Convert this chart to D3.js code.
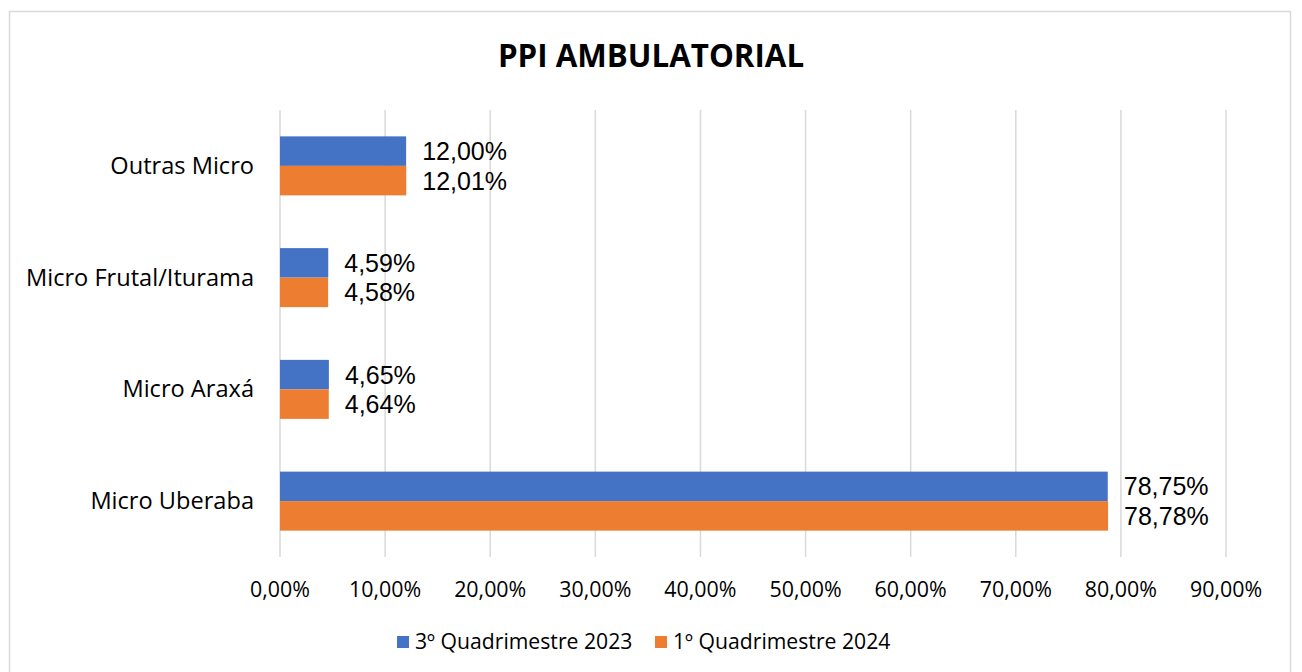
<!DOCTYPE html>
<head>
    <meta charset="utf-8">
    <title>PPI Ambulatorial</title>
    <style>
        body { margin: 0; background: #fff; }
        text { font-family: "Open Sans", sans-serif; fill: #000; }
        .value { font-family: "Liberation Sans", Arial, sans-serif; }
    </style>
</head>
<body>

<svg width="1302" height="672"></svg>

<script src="https://d3js.org/d3.v7.min.js"></script>

<script>

    // data
    var categories = ["Outras Micro", "Micro Frutal/Iturama", "Micro Araxá", "Micro Uberaba"];
    var seriesNames = ["3º Quadrimestre 2023", "1º Quadrimestre 2024"];
    var values2023 = [12.00, 4.59, 4.65, 78.75];
    var values2024 = [12.01, 4.58, 4.64, 78.78];
    var tickValues = [0, 10, 20, 30, 40, 50, 60, 70, 80, 90];
    var colors = ["#4472c4", "#ed7d31"];

    var svg = d3.select("svg");

    var fmt = function(v) { return v.toFixed(2).replace(".", ",") + "%"; };

    // chart frame
    svg.append("rect")
        .attr("x", 9.5).attr("y", 11.5)
        .attr("width", 1281).attr("height", 700)
        .attr("fill", "#fff")
        .attr("stroke", "#d9d9d9")
        .attr("stroke-width", 1.5);

    var x = d3.scaleLinear().domain([0, 90]).range([280, 1226]);
    var y = d3.scaleBand().domain(categories).range([110, 557]).paddingInner(0.472).paddingOuter(0.236);
    var ySub = d3.scaleBand().domain([0, 1]).range([0, y.bandwidth()]);

    // gridlines
    svg.append("g")
        .selectAll("line")
        .data(tickValues)
        .enter().append("line")
            .attr("x1", function(d) { return x(d); })
            .attr("x2", function(d) { return x(d); })
            .attr("y1", 110)
            .attr("y2", 557)
            .attr("stroke", "#d9d9d9")
            .attr("stroke-width", 1.5);

    // tick labels
    svg.append("g")
        .selectAll("text")
        .data(tickValues)
        .enter().append("text")
            .attr("x", function(d) { return x(d); })
            .attr("y", 597)
            .attr("text-anchor", "middle")
            .style("font-size", "21.4px")
            .text(fmt);

    // category labels
    svg.append("g")
        .selectAll("text")
        .data(categories)
        .enter().append("text")
            .attr("x", 254)
            .attr("y", function(d) { return y(d) + y.bandwidth() / 2 + 8; })
            .attr("text-anchor", "end")
            .style("font-size", "23.6px")
            .text(function(d) { return d; });

    // bars + labels
    var series = [values2023, values2024];
    series.forEach(function(vals, i) {
        var g = svg.append("g");
        g.selectAll("rect")
            .data(vals)
            .enter().append("rect")
                .attr("x", x(0))
                .attr("y", function(d, j) { return y(categories[j]) + ySub(i); })
                .attr("width", function(d) { return x(d) - x(0); })
                .attr("height", ySub.bandwidth())
                .attr("fill", colors[i]);

        g.selectAll("text")
            .data(vals)
            .enter().append("text")
                .attr("class", "value")
                .attr("x", function(d) { return x(d) + 16; })
                .attr("y", function(d, j) { return y(categories[j]) + ySub(i) + ySub.bandwidth() / 2 + 9; })
                .style("font-size", "25px")
                .text(fmt);
    });

    // title
    svg.append("text")
        .attr("x", 651)
        .attr("y", 67)
        .attr("text-anchor", "middle")
        .style("font-size", "31.3px")
        .style("font-weight", "bold")
        .text("PPI AMBULATORIAL");

    // legend
    var legendX = [397, 655];
    var legend = svg.append("g")
        .selectAll("g")
        .data(seriesNames)
        .enter().append("g")
            .attr("transform", function(d, i) { return "translate(" + legendX[i] + ",636)"; });

    legend.append("rect")
        .attr("width", 12).attr("height", 12)
        .attr("fill", function(d, i) { return colors[i]; });

    legend.append("text")
        .attr("x", 18)
        .attr("y", 13)
        .style("font-size", "21.2px")
        .text(function(d) { return d; });

</script>
</body>
